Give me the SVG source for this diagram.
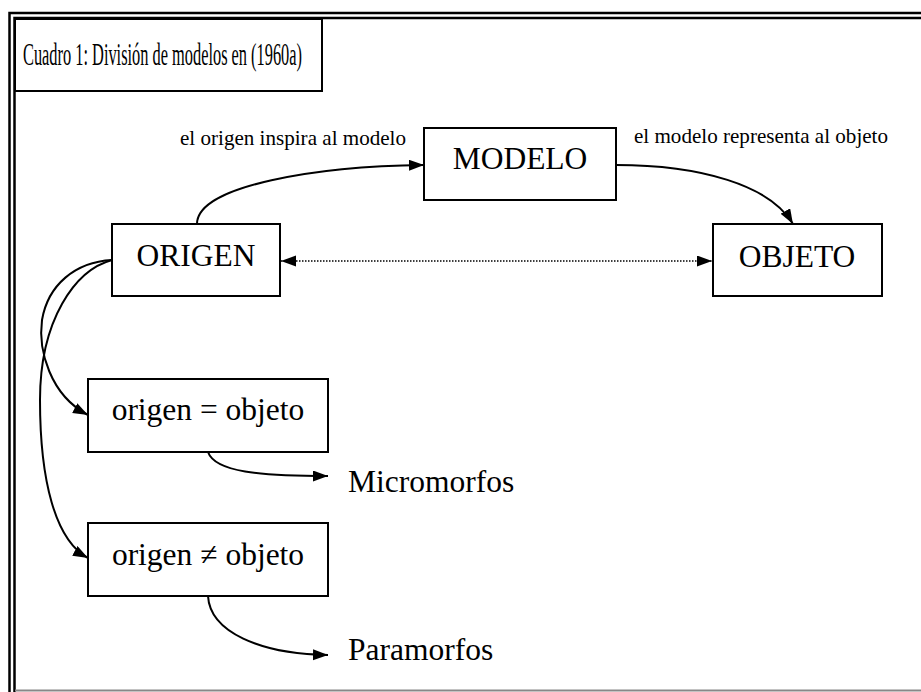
<svg xmlns="http://www.w3.org/2000/svg" width="921" height="692" viewBox="0 0 921 692">
<defs>
<style>
.box{fill:#fff;stroke:#000;stroke-width:2}
.frame{fill:none;stroke:#000;stroke-width:2.5}
.node{font-family:"Liberation Serif","Times New Roman",serif;font-size:31.5px;fill:#000}
.lbl{font-family:"Liberation Serif","Times New Roman",serif;font-size:21px;fill:#000}
.title{font-family:"Liberation Serif","Times New Roman",serif;font-size:32px;fill:#000}
.edge{fill:none;stroke:#000;stroke-width:2}
.dot{fill:none;stroke:#000;stroke-width:1.5;stroke-dasharray:1.5 1.5}
</style>
<marker id="ah" markerUnits="userSpaceOnUse" markerWidth="16" markerHeight="12" refX="15" refY="5.5" orient="auto">
<path d="M0,0 L15,5.5 L0,11 z" fill="#000"/>
</marker>
<marker id="ahd" markerUnits="userSpaceOnUse" markerWidth="16" markerHeight="12" refX="15" refY="5.5" orient="auto-start-reverse">
<path d="M0,0 L15,5.5 L0,11 z" fill="#000"/>
</marker>
</defs>
<rect x="0" y="0" width="921" height="692" fill="#fff"/>
<g id="frame">
<path class="frame" d="M9.5,692 V13 H925"/>
<path class="frame" d="M14.5,692 V18 H925"/>
<line x1="15" y1="690.5" x2="921" y2="690.5" stroke="#888" stroke-width="2"/>
</g>
<g id="title">
<rect class="box" x="15" y="19" width="307" height="72"/>
<text class="title" x="23" y="65" textLength="279" lengthAdjust="spacingAndGlyphs">Cuadro 1: División de modelos en (1960a)</text>
</g>
<g id="connectors">
<path class="edge" d="M197,224 C197,185 320,166 424,165" marker-end="url(#ah)"/>
<path class="edge" d="M616,165 C700,165 770,185 793,224" marker-end="url(#ah)"/>
<path class="dot" d="M281,261 H712" marker-start="url(#ahd)" marker-end="url(#ahd)"/>
<path class="edge" d="M112,260 C75,262 48,285 42,320 C38,350 50,395 88,415" marker-end="url(#ah)"/>
<path class="edge" d="M112,260 C75,270 40,320 40,400 C40,480 55,540 88,558" marker-end="url(#ah)"/>
<path class="edge" d="M208,452 C215,472 260,476 328,476" marker-end="url(#ah)"/>
<path class="edge" d="M208,596 C210,632 260,654 328,655" marker-end="url(#ah)"/>
</g>
<g id="lbl-inspira"><text class="lbl" x="180" y="145" textLength="226" lengthAdjust="spacingAndGlyphs">el origen inspira al modelo</text></g>
<g id="lbl-representa"><text class="lbl" x="634" y="143" textLength="254" lengthAdjust="spacingAndGlyphs">el modelo representa al objeto</text></g>
<g id="modelo">
<rect class="box" x="424" y="128" width="192" height="72"/>
<text class="node" x="520" y="169" text-anchor="middle">MODELO</text>
</g>
<g id="origen">
<rect class="box" x="112" y="224" width="168" height="72"/>
<text class="node" x="196" y="266" text-anchor="middle">ORIGEN</text>
</g>
<g id="objeto">
<rect class="box" x="713" y="224" width="169" height="72"/>
<text class="node" x="797" y="267" text-anchor="middle">OBJETO</text>
</g>
<g id="igual">
<rect class="box" x="88" y="379" width="240" height="73"/>
<text class="node" x="208" y="420" text-anchor="middle">origen = objeto</text>
</g>
<g id="distinto">
<rect class="box" x="88" y="523" width="240" height="73"/>
<text class="node" x="208" y="565" text-anchor="middle">origen ≠ objeto</text>
</g>
<g id="micromorfos"><text class="node" x="348" y="492">Micromorfos</text></g>
<g id="paramorfos"><text class="node" x="348" y="660">Paramorfos</text></g>
</svg>
